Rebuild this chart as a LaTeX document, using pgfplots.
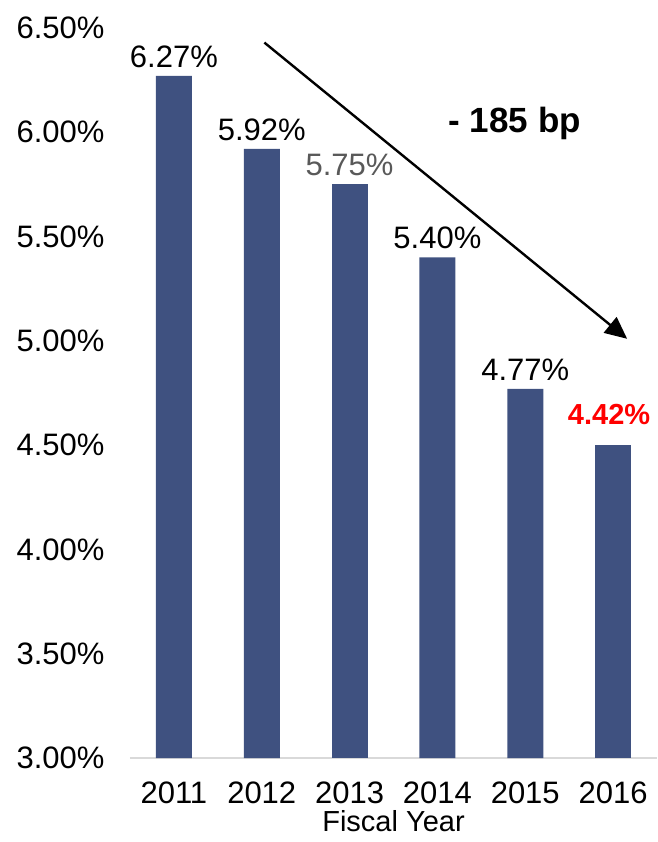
\documentclass[border=0pt]{standalone}
\usepackage{pgfplots}
\pgfplotsset{compat=1.18}
\usepackage{fontspec}
\setmainfont{Liberation Sans}
\usetikzlibrary{arrows.meta}
\definecolor{barblue}{RGB}{63,81,128}
\definecolor{labgray}{RGB}{89,89,89}
\definecolor{axgray}{RGB}{217,217,217}

\begin{document}
\begin{tikzpicture}
\path[use as bounding box] (-130pt,-84pt) rectangle (527pt,758pt);
\begin{axis}[
    at={(0,0)}, anchor=south west,
    scale only axis,
    width=527pt, height=730pt,
    ybar, bar width=36pt,
    xmin=-0.5, xmax=5.5,
    ymin=3, ymax=6.5,
    ytick={3,3.5,...,6.5},
    xtick={0,...,5},
    xticklabels={2011,2012,2013,2014,2015,2016},
    axis y line*=left,
    axis x line*=bottom,
    y axis line style={draw=none},
    x axis line style={axgray, line width=1.5pt, -},
    tick style={draw=none},
    /pgf/number format/assume math mode=true,
    yticklabel={\pgfmathprintnumber[fixed,fixed zerofill,precision=2]{\tick}\%},
    yticklabel style={font=\fontsize{31}{36}\selectfont, anchor=east, xshift=-22pt},
    xticklabel style={font=\fontsize{31}{36}\selectfont, yshift=-16pt},
    xlabel={Fiscal Year},
    xlabel style={font=\fontsize{29}{34}\selectfont, yshift=-2pt, inner sep=1pt},
    clip=false,
    nodes near coords,
    point meta=explicit symbolic,
    every node near coord/.append style={font=\fontsize{31}{36}\selectfont, inner sep=2pt, yshift=6pt},
]
% regular labels
\addplot[fill=barblue, draw=none, bar shift=0pt] table[meta=lab] {
x y lab
0 6.27 6.27\%
1 5.92 5.92\%
3 5.40 5.40\%
4 4.77 4.77\%
};
% grey label
\addplot[fill=barblue, draw=none, bar shift=0pt,
    every node near coord/.append style={text=labgray}] table[meta=lab] {
x y lab
2 5.75 5.75\%
};
% red bold label (bar drawn at 4.50)
\addplot[fill=barblue, draw=none, bar shift=0pt,
    every node near coord/.append style={text=red, font=\fontsize{29}{34}\selectfont\bfseries, yshift=12pt, xshift=-4pt}] table[meta=lab] {
x y lab
5 4.50 4.42\%
};

\draw[black, line width=2.4pt, -{Triangle[length=22pt,width=20pt]}]
    (axis cs:1.03,6.43) -- (axis cs:5.16,5.01);
\node[font=\fontsize{35}{40}\selectfont\bfseries] at (axis cs:3.88,6.04) {- 185 bp};
\end{axis}
\end{tikzpicture}
\end{document}
